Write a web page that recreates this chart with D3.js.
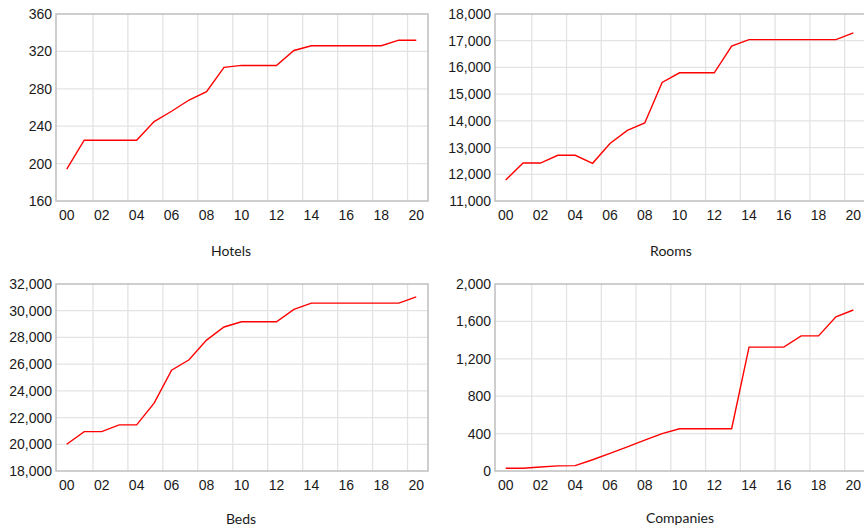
<!DOCTYPE html>
<html>
<head>
<meta charset="utf-8">
<script src="https://cdn.jsdelivr.net/npm/d3@7"></script>
<style>
  body { margin: 0; background: #fff; }
  svg { display: block; font-family: Lato, "Open Sans", sans-serif; }
  .tick-label { font-size: 14px; fill: #1a1a1a; }
  .panel-title { font-size: 14px; fill: #1a1a1a; }
</style>
</head>
<body>
<svg id="chart" width="864" height="531"></svg>
<script>
// DATA
const years = d3.range(2000, 2021);
const tickLabels = ['00', '02', '04', '06', '08', '10', '12', '14', '16', '18', '20'];

const hotels = [194, 225, 225, 225, 225, 245, 256, 268, 277, 303, 305,
  305, 305, 321, 326, 326, 326, 326, 326, 332, 332];
const rooms = [11790, 12420, 12420, 12710, 12710, 12410, 13150, 13640, 13920, 15440, 15800,
  15800, 15800, 16800, 17040, 17040, 17040, 17040, 17040, 17040, 17290];
const beds = [20000, 20950, 20950, 21450, 21450, 23080, 25550, 26330, 27800, 28780, 29170,
  29170, 29170, 30100, 30570, 30570, 30570, 30570, 30570, 30570, 31030];
const companies = [30, 30, 42, 55, 57, 120, 188, 258, 330, 400, 452,
  452, 452, 452, 1325, 1325, 1325, 1445, 1445, 1650, 1722];

const hotelsTicks = [160, 200, 240, 280, 320, 360];
const roomsTicks = [11000, 12000, 13000, 14000, 15000, 16000, 17000, 18000];
const bedsTicks = [18000, 20000, 22000, 24000, 26000, 28000, 30000, 32000];
const companiesTicks = [0, 400, 800, 1200, 1600, 2000];

// SETUP
const svg = d3.select('#chart');

const panels = [
  { title: 'Hotels', values: hotels, ticks: hotelsTicks, left: 56, top: 14, width: 372, titleX: 231, titleY: 256 },
  { title: 'Rooms', values: rooms, ticks: roomsTicks, left: 495, top: 14, width: 370, titleX: 671, titleY: 256 },
  { title: 'Beds', values: beds, ticks: bedsTicks, left: 56, top: 284, width: 372, titleX: 241, titleY: 524 },
  { title: 'Companies', values: companies, ticks: companiesTicks, left: 495, top: 284, width: 370, titleX: 680, titleY: 523 }
];

const plotHeight = 187;

function drawPanel(p) {
  const w = p.width;
  const g = svg.append('g')
    .attr('transform', 'translate(' + p.left + ',' + p.top + ')');

  const x = d3.scaleBand().domain(years).range([2, w - 3]).padding(0);
  const y = d3.scaleLinear()
    .domain([p.ticks[0], p.ticks[p.ticks.length - 1]])
    .range([plotHeight, 0]);

  // GRID
  g.selectAll('.hgrid')
    .data(p.ticks.slice(1, -1))
    .enter()
    .append('line')
    .attr('x1', 0)
    .attr('x2', w)
    .attr('y1', d => y(d))
    .attr('y2', d => y(d))
    .attr('stroke', '#e3e3e3')
    .attr('stroke-width', 1.3);

  g.selectAll('.vgrid')
    .data(years.filter((d, i) => i > 0 && i % 2 === 0))
    .enter()
    .append('line')
    .attr('x1', d => x(d))
    .attr('x2', d => x(d))
    .attr('y1', 0)
    .attr('y2', plotHeight)
    .attr('stroke', '#e3e3e3')
    .attr('stroke-width', 1.3);

  // FRAME
  g.append('rect')
    .attr('x', 0)
    .attr('y', 0)
    .attr('width', w)
    .attr('height', plotHeight)
    .attr('fill', 'none')
    .attr('stroke', '#bfbfbf')
    .attr('stroke-width', 1.5);

  // AXES
  const yAxis = g.append('g')
    .call(d3.axisLeft(y).tickValues(p.ticks).tickSize(0).tickPadding(4)
      .tickFormat(d3.format(',')));
  yAxis.select('.domain').remove();
  yAxis.selectAll('text').attr('class', 'tick-label').attr('font-family', null).attr('font-size', null).attr('fill', null);

  const xAxis = g.append('g')
    .attr('transform', 'translate(0,' + plotHeight + ')')
    .call(d3.axisBottom(x)
      .tickValues(years.filter((d, i) => i % 2 === 0))
      .tickSize(0).tickPadding(9)
      .tickFormat((d, i) => tickLabels[i]));
  xAxis.select('.domain').remove();
  xAxis.selectAll('text').attr('class', 'tick-label').attr('font-family', null).attr('font-size', null).attr('fill', null);

  // LINE
  const line = d3.line()
    .x((d, i) => x(years[i]) + x.bandwidth() / 2)
    .y(d => y(d));

  g.append('path')
    .datum(p.values)
    .attr('d', line)
    .attr('fill', 'none')
    .attr('stroke', '#ff0000')
    .attr('stroke-width', 1.4);

  // TITLE
  svg.append('text')
    .attr('class', 'panel-title')
    .attr('x', p.titleX)
    .attr('y', p.titleY)
    .attr('text-anchor', 'middle')
    .text(p.title);
}

panels.forEach(drawPanel);
</script>
</body>
</html>
